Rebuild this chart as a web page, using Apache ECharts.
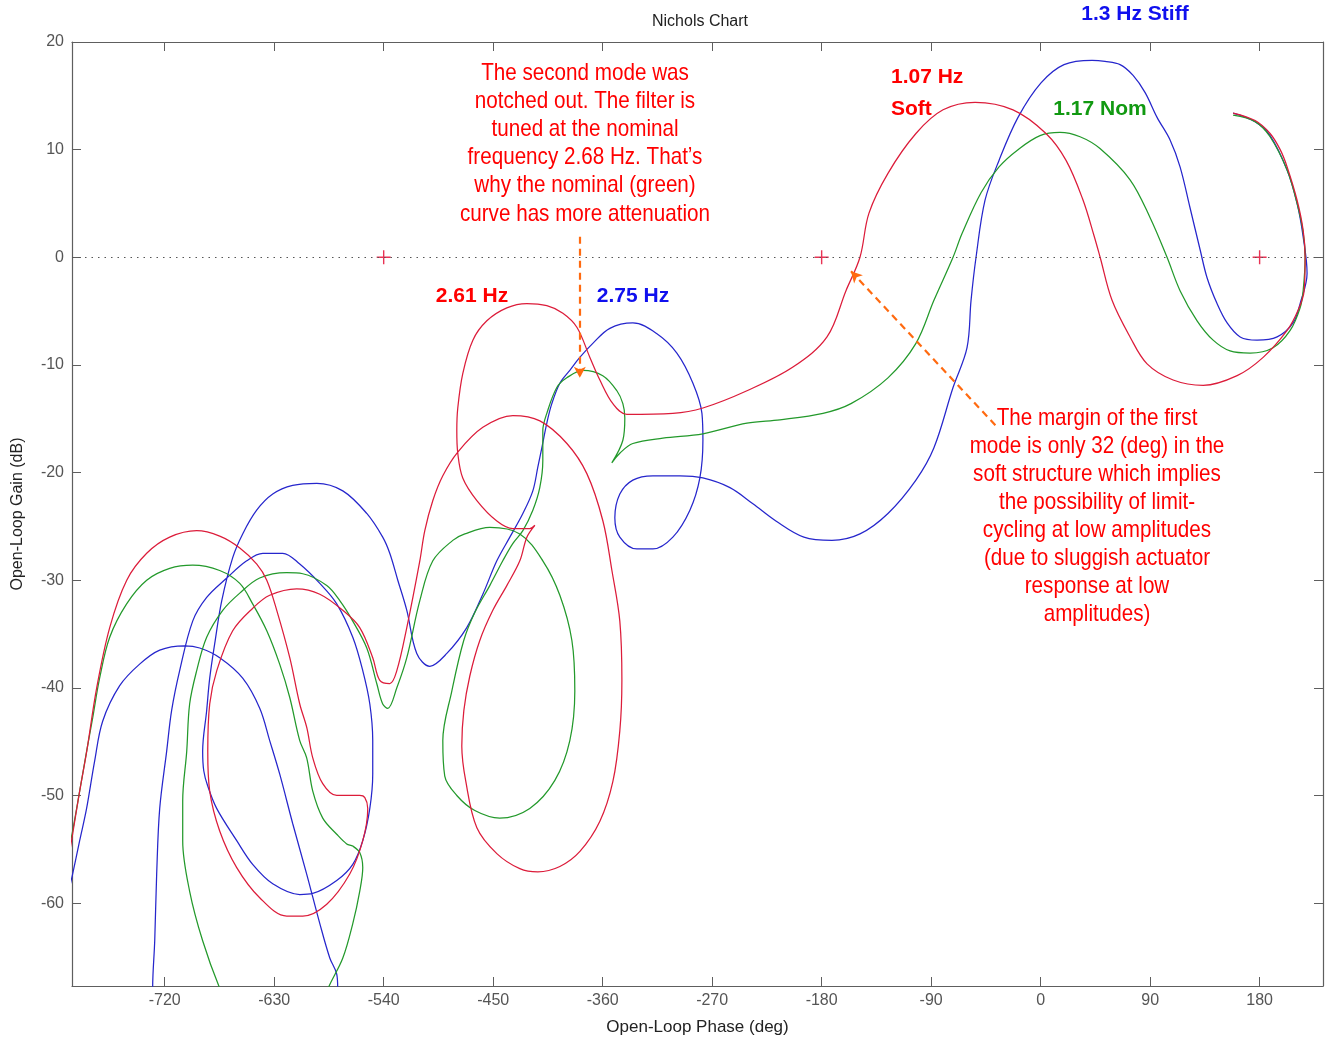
<!DOCTYPE html>
<html>
<head>
<meta charset="utf-8">
<title>Nichols Chart</title>
<script src="https://cdn.jsdelivr.net/npm/echarts@6/dist/echarts.min.js"></script>
<style>
  html, body { margin: 0; padding: 0; background: #ffffff; }
  #chart { width: 1328px; height: 1042px; }
</style>
</head>
<body>
<div id="chart"></div>
<script>
// Axis ticks
const phaseTicks = [-720, -630, -540, -450, -360, -270, -180, -90, 0, 90, 180];
const gainTicks = [-60, -50, -40, -30, -20, -10, 0, 10, 20];

// Open-loop response, [phase (deg), gain (dB)], from low to high frequency
// Soft structure (first mode 1.07 Hz)
const soft = [[158.2,13.4],[176.3,12.7],[188.6,11.5],[196.9,10.0],[202.6,8.4],[210.8,5.3],[215.8,2.5],[217.4,0],[216.6,-3.1],[211.7,-4.9],[202.6,-6.8],[182.9,-9.3],[161.5,-11.0],[133.6,-11.9],[108.9,-11.4],[87.5,-9.9],[73.5,-7.4],[58.7,-4.0],[48.9,0],[43.9,2.0],[34.9,5.3],[20.9,9.0],[4.4,11.5],[-22.7,13.7],[-53.9,14.4],[-80.2,13.7],[-102.5,11.5],[-125.5,7.8],[-141.1,4.1],[-148.5,0],[-160,-3.1],[-175.6,-7.4],[-203.6,-10.2],[-241.4,-12.4],[-277.6,-14.0],[-302.3,-14.5],[-340.1,-14.6],[-351.6,-13.6],[-362.3,-11.4],[-370.5,-9.3],[-381.2,-6.5],[-392.7,-5.2],[-405.9,-4.5],[-422.3,-4.3],[-438.8,-4.7],[-455.2,-5.9],[-466.7,-7.7],[-475,-10.8],[-479.1,-14.0],[-479.9,-16.1],[-479.1,-18.2],[-475,-20.5],[-463.4,-22.6],[-447,-24.5],[-433.8,-25.2],[-419.9,-25.2],[-415.7,-24.9],[-422.3,-26.0],[-428.1,-28.2],[-438.8,-30.5],[-450.3,-32.8],[-461,-35.6],[-469.2,-38.9],[-474.1,-42.1],[-475.8,-45.4],[-472.5,-48.7],[-463.4,-53.0],[-447,-55.4],[-428.1,-56.8],[-413.3,-57.1],[-395.2,-56.6],[-378.7,-55.2],[-362.3,-52.4],[-351.6,-48.7],[-345.9,-44.0],[-344.2,-39.3],[-345.9,-33.8],[-352.4,-29.1],[-359.8,-24.5],[-373,-20.1],[-389.4,-17.3],[-411.6,-15.2],[-433.8,-14.7],[-458.5,-15.8],[-479.1,-18.1],[-491.4,-20.3],[-499.6,-22.6],[-506.2,-25.4],[-510.3,-28.2],[-521,-34.4],[-529.2,-38.4],[-535,-39.6],[-543.2,-39.3],[-549,-37.2],[-559.7,-34.4],[-573.6,-32.8],[-592.5,-31.3],[-611.5,-30.8],[-633.7,-31.4],[-647.6,-32.6],[-664.1,-34.7],[-677.2,-38.4],[-683,-41.5],[-684.6,-45.9],[-683,-49.6],[-674.8,-53.3],[-660.8,-56.7],[-641.9,-59.5],[-619.7,-61.2],[-606.5,-61.2],[-586.8,-60.1],[-567.9,-57.3],[-557.2,-54.2],[-553.1,-51.2],[-555.5,-50.2],[-559.7,-50.0],[-578.6,-50.0],[-590.1,-48.9],[-598.3,-46.5],[-603.2,-43.7],[-609,-41.5],[-617.2,-37.2],[-627.9,-32.8],[-636.1,-30.0],[-644.3,-28.5],[-658.3,-27.0],[-674.8,-25.9],[-693.7,-25.4],[-715.9,-26.0],[-734.8,-27.5],[-751.2,-30.0],[-765.2,-34.4],[-775.9,-40.0],[-784.1,-45.9],[-789.9,-49.6],[-795.7,-53.6],[-800,-56.5]];

// Nominal structure (first mode 1.17 Hz)
const nominal = [[158.2,13.2],[176.3,12.6],[188.6,11.2],[202.6,8.1],[210.8,5.0],[215.8,2.3],[217.4,0],[215.8,-3.1],[213.3,-4.7],[205.1,-6.8],[191.1,-8.4],[172.2,-8.9],[155.7,-8.7],[141.8,-7.7],[128.6,-5.9],[114.6,-3.1],[103.9,0],[89.9,3.7],[73.5,7.2],[48.8,10.1],[32.4,11.2],[15.9,11.6],[-0.5,11.3],[-18.6,10.0],[-34.2,8.4],[-49.0,6.0],[-64.6,2.2],[-72.0,0],[-87.7,-4.0],[-102.5,-8.0],[-125.5,-11.2],[-155.9,-13.6],[-178.9,-14.5],[-214.3,-15.1],[-241.4,-15.4],[-277.6,-16.4],[-310.5,-16.8],[-335.2,-17.3],[-345.9,-18.2],[-352.5,-19.1],[-343.4,-17.0],[-341.8,-14.9],[-343.4,-13.6],[-348.3,-12.4],[-359.9,-11.0],[-376.3,-10.5],[-389.5,-11.2],[-397.7,-12.1],[-405.9,-14.5],[-409.2,-16.1],[-409.2,-18.9],[-411.7,-21.4],[-417.4,-23.5],[-425.6,-25.4],[-433.9,-26.6],[-442.1,-28.2],[-452.8,-30.5],[-465.1,-33.0],[-474.2,-35.6],[-484.0,-40.3],[-491.4,-44.9],[-489.8,-48.2],[-479.9,-50.0],[-465.1,-51.4],[-444.6,-52.1],[-419.9,-51.2],[-399.3,-48.6],[-387.0,-44.9],[-382.9,-40.3],[-385.3,-35.6],[-395.2,-31.4],[-409.2,-28.2],[-428.1,-25.7],[-452.8,-25.1],[-473.3,-25.7],[-483.2,-26.3],[-499.6,-28.2],[-510.3,-31.9],[-521.0,-37.2],[-529.2,-40.0],[-536.6,-41.9],[-540.8,-41.5],[-545.7,-39.6],[-553.9,-36.3],[-565.4,-33.8],[-576.1,-31.9],[-586.8,-30.5],[-606.5,-29.4],[-619.7,-29.3],[-641.9,-29.8],[-658.3,-31.2],[-672.3,-32.8],[-685.5,-35.3],[-693.7,-38.4],[-699.5,-41.5],[-701.9,-45.9],[-705.2,-50.5],[-705.2,-54.2],[-699.5,-58.9],[-688.8,-63.5],[-674.8,-67.9],[-658.3,-71.9],[-629.6,-74.2],[-604.9,-73.3],[-592.5,-70.5],[-586.8,-68.2],[-573.6,-65.1],[-565.4,-61.9],[-559.7,-58.9],[-557.2,-56.7],[-559.7,-55.3],[-565.4,-54.7],[-570.4,-54.5],[-578.6,-53.6],[-590.1,-52.1],[-598.3,-49.6],[-603.3,-46.5],[-609.0,-44.9],[-617.2,-40.9],[-625.5,-37.8],[-636.1,-34.7],[-647.7,-32.2],[-658.3,-30.3],[-674.8,-29.1],[-697.0,-28.6],[-715.9,-28.9],[-734.8,-30.0],[-751.3,-32.2],[-765.2,-35.3],[-773.5,-39.1],[-779.2,-42.8],[-784.2,-45.9],[-789.9,-49.6],[-795.7,-53.3],[-799.8,-55.6]];

// Stiff structure (first mode 1.3 Hz)
const stiff = [[158.2,13.4],[176.3,12.6],[188.6,11.3],[202.6,8.1],[210.8,5.0],[215.8,1.9],[219.0,-1.5],[213.3,-4.3],[207.5,-6.1],[194.4,-7.4],[177.9,-7.7],[164.0,-7.4],[153.3,-6.1],[145.0,-4.3],[136.8,-1.9],[131.1,0.7],[122.8,4.6],[114.6,8.4],[106.4,10.9],[95.7,13.0],[85.9,15.3],[76.0,16.9],[65.3,17.9],[52.9,18.2],[42.3,18.3],[19.2,17.9],[0.3,16.2],[-18.6,13.0],[-34.2,9.0],[-45.7,5.3],[-53.1,0],[-57.2,-4.0],[-60.5,-8.4],[-72.0,-12.1],[-87.7,-17.7],[-102.5,-20.7],[-125.5,-23.8],[-148.5,-25.7],[-171.5,-26.3],[-194.6,-26.0],[-217.6,-24.5],[-236.5,-22.9],[-255.4,-21.4],[-277.6,-20.5],[-296.5,-20.3],[-318.7,-20.3],[-335.2,-20.7],[-345.9,-22.0],[-350.0,-24.2],[-345.9,-26.0],[-331.9,-27.1],[-318.7,-27.1],[-302.3,-26.0],[-288.3,-23.5],[-280.1,-20.5],[-277.6,-17.0],[-278.4,-14.5],[-285.8,-11.7],[-299.0,-8.9],[-315.4,-7.1],[-335.2,-6.1],[-354.1,-6.6],[-368.1,-8.0],[-378.8,-9.3],[-387.0,-10.5],[-395.2,-11.7],[-401.8,-13.6],[-405.9,-15.4],[-410.0,-17.7],[-413.3,-19.5],[-417.4,-21.7],[-425.6,-23.8],[-436.3,-26.0],[-447.0,-28.2],[-458.5,-31.3],[-471.7,-34.4],[-488.1,-36.8],[-502.1,-38.0],[-512.8,-36.8],[-521.0,-32.8],[-528.4,-30.0],[-535.0,-27.5],[-540.8,-26.0],[-553.9,-23.8],[-573.6,-21.7],[-595.0,-21.0],[-614.8,-21.2],[-631.2,-22.0],[-644.4,-23.5],[-655.9,-25.7],[-664.1,-27.9],[-673.1,-31.9],[-678.9,-35.9],[-683.0,-39.1],[-685.5,-42.1],[-688.8,-45.9],[-687.9,-47.7],[-684.7,-49.1],[-677.3,-51.2],[-660.8,-54.2],[-647.7,-56.4],[-631.2,-58.2],[-609.0,-59.2],[-598.3,-59.1],[-578.6,-57.9],[-565.4,-56.4],[-557.2,-54.2],[-551.4,-51.2],[-549.0,-48.0],[-549.0,-44.9],[-551.4,-41.5],[-557.2,-38.4],[-565.4,-35.3],[-578.6,-32.2],[-592.5,-30.3],[-609.0,-28.5],[-623.0,-27.5],[-639.4,-27.5],[-652.6,-28.2],[-669.0,-29.8],[-685.5,-31.6],[-697.0,-33.8],[-707.7,-38.4],[-714.3,-42.1],[-718.4,-45.9],[-724.1,-51.2],[-726.6,-57.3],[-728.2,-63.5],[-729.9,-67.9],[-720.0,-73.8],[-666.6,-77.9],[-609.0,-76.5],[-580.2,-71.0],[-577.8,-67.9],[-578.6,-66.6],[-584.3,-65.1],[-592.5,-61.9],[-603.3,-57.3],[-614.8,-52.6],[-625.5,-48.0],[-633.7,-44.9],[-641.9,-41.9],[-655.9,-39.1],[-674.8,-37.2],[-691.2,-36.3],[-703.6,-36.1],[-724.1,-36.5],[-740.6,-37.8],[-757.0,-39.8],[-771.0,-43.1],[-777.6,-46.8],[-784.2,-51.2],[-789.9,-54.2],[-795.7,-57.3],[-799.8,-59.3]];

// Critical points (-180 deg + k*360, 0 dB)
const criticalPoints = [[-540, 0], [-180, 0], [180, 0]];

// Annotation arrows: [from, to] in [phase, gain]
const notchArrow = [[-378.8, 1.9], [-378.8, -11.2]];
const marginArrow = [[-37.2, -15.6], [-155.9, -1.3]];

const AXIS_COLOR = '#5e5e5e';
const LABEL_FONT = "'Liberation Sans', Arial, sans-serif";
const NOTE_FONT = "'Liberation Sans', Arial, sans-serif";
const PLUS = 'path://M4.5,0H5.5V4.5H10V5.5H5.5V10H4.5V5.5H0V4.5H4.5Z';

const chart = echarts.init(document.getElementById('chart'), null, { renderer: 'canvas' });

function curve(name, data, color) {
  return {
    name: name,
    type: 'line',
    data: data,
    showSymbol: false,
    smooth: 0.35,
    clip: true,
    lineStyle: { color: color, width: 1.25 },
    itemStyle: { color: color },
    emphasis: { disabled: true },
    z: 3
  };
}

// Condensed red note, centred on (cx, cy)
function note(text, cx, cy, lineHeight) {
  return {
    type: 'text', silent: true,
    x: cx, y: cy, scaleX: 0.86, scaleY: 1,
    style: {
      text: text, x: 0, y: 0, align: 'center', verticalAlign: 'middle',
      font: '24px ' + NOTE_FONT, fill: '#ff0000', lineHeight: lineHeight
    }
  };
}

function tag(text, x, y, align, color) {
  return {
    type: 'text', silent: true,
    style: { text: text, x: x, y: y, align: align, verticalAlign: 'middle',
             font: 'bold 21px ' + LABEL_FONT, fill: color }
  };
}

const hiddenAxisLabel = { show: false };

chart.setOption({
  animation: false,
  backgroundColor: '#ffffff',
  title: {
    text: 'Nichols Chart',
    left: 695,
    top: 9,
    textAlign: 'center',
    textStyle: { fontFamily: LABEL_FONT, fontSize: 16, fontWeight: 'normal', color: '#222' }
  },
  grid: { left: 72, right: 5, top: 42, bottom: 56, containLabel: false },
  xAxis: [
    {
      type: 'value', min: -796.2, max: 232.1, position: 'bottom',
      name: 'Open-Loop Phase (deg)', nameLocation: 'middle', nameGap: 33,
      nameTextStyle: { fontFamily: LABEL_FONT, fontSize: 17, color: '#222' },
      axisLine: { show: true, onZero: false, lineStyle: { color: AXIS_COLOR, width: 1.2 } },
      axisTick: { show: true, inside: true, length: 9, customValues: phaseTicks, lineStyle: { color: AXIS_COLOR } },
      axisLabel: { customValues: phaseTicks, color: '#555', fontFamily: LABEL_FONT, fontSize: 16, margin: 7 },
      splitLine: { show: false }
    },
    {
      type: 'value', min: -796.2, max: 232.1, position: 'top',
      axisLine: { show: true, onZero: false, lineStyle: { color: AXIS_COLOR, width: 1.2 } },
      axisTick: { show: true, inside: true, length: 9, customValues: phaseTicks, lineStyle: { color: AXIS_COLOR } },
      axisLabel: hiddenAxisLabel,
      splitLine: { show: false }
    }
  ],
  yAxis: [
    {
      type: 'value', min: -67.7, max: 20, position: 'left',
      name: 'Open-Loop Gain (dB)', nameLocation: 'middle', nameGap: 46,
      nameTextStyle: { fontFamily: LABEL_FONT, fontSize: 16, color: '#222' },
      axisLine: { show: true, onZero: false, lineStyle: { color: AXIS_COLOR, width: 1.2 } },
      axisTick: { show: true, inside: true, length: 9, customValues: gainTicks, lineStyle: { color: AXIS_COLOR } },
      axisLabel: { customValues: gainTicks, color: '#555', fontFamily: LABEL_FONT, fontSize: 16, margin: 8 },
      splitLine: { show: false }
    },
    {
      type: 'value', min: -67.7, max: 20, position: 'right',
      axisLine: { show: true, onZero: false, lineStyle: { color: AXIS_COLOR, width: 1.2 } },
      axisTick: { show: true, inside: true, length: 9, customValues: gainTicks, lineStyle: { color: AXIS_COLOR } },
      axisLabel: hiddenAxisLabel,
      splitLine: { show: false }
    }
  ],
  series: [
    {
      name: 'zeroGain',
      type: 'line',
      data: [],
      markLine: {
        silent: true,
        symbol: ['none', 'none'],
        label: { show: false },
        lineStyle: { color: '#555', width: 1, type: [1.5, 5] },
        data: [{ yAxis: 0 }]
      },
      z: 1
    },
    curve('Stiff', stiff, '#2626cc'),
    curve('Nominal', nominal, '#23992b'),
    curve('Soft', soft, '#dc1c3a'),
    {
      name: 'Critical points',
      type: 'scatter',
      data: criticalPoints,
      symbol: PLUS,
      symbolSize: 14,
      itemStyle: { color: '#e4002b' },
      emphasis: { disabled: true },
      z: 4
    },
    {
      name: 'notes',
      type: 'line',
      data: [],
      markLine: {
        silent: true,
        symbol: ['none', 'arrow'],
        symbolSize: [9, 11],
        label: { show: false },
        lineStyle: { color: '#ff6a10', width: 2.2, type: [7, 5] },
        data: [
          [{ coord: notchArrow[0] }, { coord: notchArrow[1] }],
          [{ coord: marginArrow[0] }, { coord: marginArrow[1] }]
        ]
      },
      z: 5
    }
  ],
  graphic: [
    note('The second mode was\nnotched out. The filter is\ntuned at the nominal\nfrequency 2.68 Hz. That\u2019s\nwhy the nominal (green)\ncurve has more attenuation', 585, 143.5, 28.2),
    note('The margin of the first\nmode is only 32 (deg) in the\nsoft structure which implies\nthe possibility of limit-\ncycling at low amplitudes\n(due to sluggish actuator\nresponse at low\namplitudes)', 1097, 516.5, 28.1),
    tag('2.61 Hz', 472, 296, 'center', '#ff0000'),
    tag('2.75 Hz', 633, 296, 'center', '#1010ee'),
    tag('1.07 Hz', 891, 77, 'left', '#ff0000'),
    tag('Soft', 891, 109, 'left', '#ff0000'),
    tag('1.17 Nom', 1100, 109, 'center', '#119911'),
    tag('1.3 Hz Stiff', 1135, 14, 'center', '#1010ee')
  ]
});
</script>
</body>
</html>
